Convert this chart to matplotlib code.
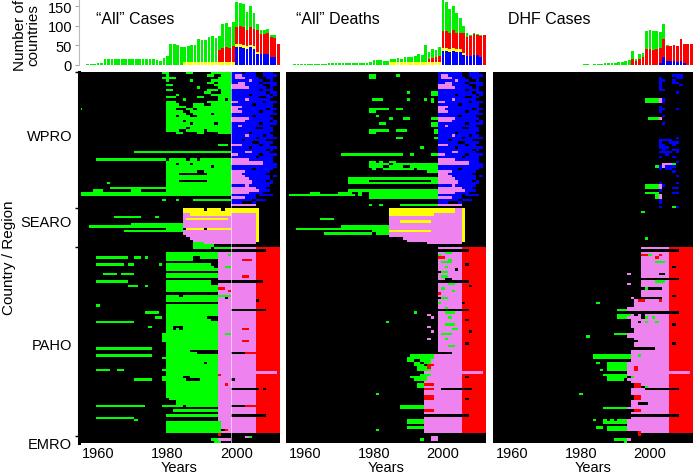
import numpy as np
import matplotlib
matplotlib.use('Agg')
import matplotlib.pyplot as plt
from matplotlib.colors import ListedColormap

plt.rcParams['font.family'] = ['Liberation Sans', 'DejaVu Sans']

years = list(range(1955, 2013))

# ---- bar data (number of countries per year, 1955-2012) ----
cases_green = [0, 0, 1, 2, 2, 3, 3, 13, 14, 14,
               15, 15, 14, 14, 15, 14, 14, 14, 15, 14,
               13, 14, 12, 10, 17, 21, 53, 52, 51, 46,
               38, 41, 44, 43, 59, 56, 55, 63, 66, 61,
               35, 61, 62, 54, 63, 63, 60, 60, 46, 53,
               43, 17, 9, 9, 10, 5, 7, 0]
cases_yellow = [0, 0, 0, 0, 0, 0, 0, 0, 0, 0,
                0, 0, 0, 0, 0, 0, 0, 0, 0, 0,
                0, 0, 0, 0, 0, 0, 0, 0, 0, 0,
                7, 7, 7, 7, 7, 7, 7, 7, 7, 7,
                7, 7, 7, 7, 7, 7, 7, 7, 7, 7,
                7, 5, 0, 0, 0, 0, 0, 0]
cases_red = [0, 0, 0, 0, 0, 0, 0, 0, 0, 0,
             0, 0, 0, 0, 0, 0, 0, 0, 0, 0,
             0, 0, 0, 0, 0, 0, 0, 0, 0, 0,
             0, 0, 0, 0, 0, 0, 0, 0, 0, 0,
             30, 35, 38, 35, 40, 45, 46, 45, 42, 46,
             43, 55, 52, 52, 54, 50, 50, 52]
cases_blue = [0, 0, 0, 0, 0, 0, 0, 0, 0, 0,
              0, 0, 0, 0, 0, 0, 0, 0, 0, 0,
              0, 0, 0, 0, 0, 0, 0, 0, 0, 0,
              0, 0, 0, 0, 0, 0, 0, 0, 0, 0,
              0, 0, 0, 0, 0, 45, 45, 43, 40, 44,
              40, 28, 27, 27, 28, 20, 18, 0]

deaths_green = [0, 0, 1, 1, 1, 1, 1, 2, 2, 2,
                2, 2, 3, 3, 3, 3, 3, 4, 4, 4,
                4, 5, 5, 4, 6, 11, 12, 11, 10, 9,
                9, 8, 10, 9, 12, 14, 12, 16, 20, 19,
                44, 18, 24, 20, 24, 79, 75, 61, 62, 52,
                37, 20, 10, 3, 5, 3, 4, 0]
deaths_yellow = [0, 0, 0, 0, 0, 0, 0, 0, 0, 0,
                 0, 0, 0, 0, 0, 0, 0, 0, 0, 0,
                 0, 0, 0, 0, 0, 0, 0, 0, 0, 0,
                 6, 6, 6, 6, 6, 6, 6, 6, 6, 6,
                 6, 6, 6, 6, 6, 8, 8, 8, 8, 8,
                 8, 5, 0, 0, 0, 0, 0, 0]
deaths_red = [0, 0, 0, 0, 0, 0, 0, 0, 0, 0,
              0, 0, 0, 0, 0, 0, 0, 0, 0, 0,
              0, 0, 0, 0, 0, 0, 0, 0, 0, 0,
              0, 0, 0, 0, 0, 0, 0, 0, 0, 0,
              0, 8, 10, 12, 15, 43, 42, 40, 45, 40,
              40, 50, 48, 50, 52, 50, 52, 75]
deaths_blue = [0, 0, 0, 0, 0, 0, 0, 0, 0, 0,
               0, 0, 0, 0, 0, 0, 0, 0, 0, 0,
               0, 0, 0, 0, 0, 0, 0, 0, 0, 0,
               0, 0, 0, 0, 0, 0, 0, 0, 0, 0,
               0, 0, 0, 0, 0, 35, 35, 33, 35, 33,
               33, 25, 22, 22, 25, 25, 20, 0]

dhf_green = [0, 0, 0, 0, 0, 0, 0, 0, 0, 0,
             0, 0, 0, 0, 0, 0, 0, 0, 0, 0,
             0, 0, 0, 0, 0, 0, 1, 1, 0, 1,
             2, 2, 3, 3, 4, 5, 6, 7, 9, 11,
             20, 5, 11, 11, 46, 48, 47, 46, 41, 39,
             2, 0, 0, 0, 0, 0, 0, 0]
dhf_yellow = [0] * 58
dhf_red = [0, 0, 0, 0, 0, 0, 0, 0, 0, 0,
           0, 0, 0, 0, 0, 0, 0, 0, 0, 0,
           0, 0, 0, 0, 0, 0, 0, 0, 0, 0,
           0, 0, 0, 0, 0, 0, 0, 0, 0, 0,
           14, 10, 15, 18, 40, 40, 38, 40, 38, 45,
           40, 40, 40, 42, 56, 47, 52, 52]
dhf_blue = [0, 0, 0, 0, 0, 0, 0, 0, 0, 0,
            0, 0, 0, 0, 0, 0, 0, 0, 0, 0,
            0, 0, 0, 0, 0, 0, 0, 0, 0, 0,
            0, 0, 0, 0, 0, 0, 0, 0, 0, 0,
            0, 0, 0, 0, 0, 0, 0, 0, 5, 20,
            8, 8, 10, 6, 10, 5, 0, 0]

# ---- heatmap rows: colour runs per country, yy or yy-yy (>=50 -> 19yy) ----
# k none, g green, y yellow, v violet, b blue, r red
regions = ['WPRO', 'SEARO', 'PAHO', 'EMRO']

cases_wpro = [
    "g79-80 g86-87 g93-98 b99-05 k02 b08-10",
    "g80 g92-93 g96-98 b99 v00-01 b02-05 b08-11",
    "g79-82 g95-98 b99 v00-02 b03-06 b09-10",
    "g80 g87 g93-98 b99-03 v04 b05-07 b10",
    "g92-93 g95-98 b99-00 v01-02 b03-06 b08-11",
    "g80-81 g94-98 v99-02 b03-07 b10-11",
    "g89 g95-98 v99-03 b04-08 b10",
    "g80-81 g92-94 g96-98 b99-06 b08-10",
    "g91-92 g96-98 b99-08 b10-11",
    "g83 g93-98 b99-03 b05-09 b11",
    "g80-82 g89-90 g95-98 b99-06 b09-10",
    "g85 g95-96 g98 b99-02 v03 b04-09",
    "g80-82 g92-98 v99-00 b01-07 b09-11",
    "g80-83 g88-90 g93-98 b99-04 b06-10",
    "g80-85 g88-98 v99-01 b02-10",
    "g55 g80-82 g86-87 g89-98 v99-00 b01-08 b10-11",
    "g80-84 g87-98 v99-01 b02-06 b08-10",
    "g80-85 g88-92 g94-98 b99-11",
    "g80-82 g84-86 g89-98 b99-04 b06-09",
    "g80-98 v99-03 b04-10",
    "g80-84 g86-98 v99-02 b03-09 b11",
    "g80-86 g88-93 g95-98 b99-06 b08-11",
    "g80-98 b99-00 v01 b02-09",
    "g80-85 g87-98 b99-05 b08-10",
    "g80-83 g86-90 g92-98 b99-10",
    "g83-84 g89-90 g95-98 b99-03 b05-09",
    "b99-02 v03 b04-07 b09-10",
    "b99-05 b07-11",
    "b99-01 b03-08",
    "b99-04 b07-10",
    "g95-97 v99-01 b02-06 b08-09",
    "b99-03 b05-11",
    "b99-08 b10",
    "g71-98 b99-02 v03-04 b05-09",
    "v99-00 b01-06 b08-11",
    "b99-05 b07-10",
    "g60-79 g81-85 g87-88 g90-98 v99-03 b04-10",
    "g80-98 v99-07 b08-10",
    "g80-82 g84-86 g88-98 v99-07 b08-11",
    "g80-92 g94-98 b99-11",
    "g80-98 b99-04 b06-10",
    "g80-88 g91-98 v99-02 b03-09",
    "g80-83 g92-98 v99-01 b02-08",
    "g80-98 v99-02 b03-09 b11",
    "g80-98 v99-03 b04-09",
    "g80-83 g92-98 v99-04 b05-08 b10",
    "g63 g80-98 v99-04 b05-10",
    "g80-98 b99-02 v03 b04-09",
    "g64-98 v99-05 b06-08",
    "g59-61 g70-72 g80-98 v99-06 b07-09",
    "g55-98 v99-03 b04-07",
    "g55-98 b99-05 b07-10",
    "v99-02 b03-05",
    "g79 g83 g88-98 b99-04 b06-08",
    "b99-01 b05",
    "v99-05",
    "",
]
cases_searo = [
    "y85-90 y92-95 y97-06",
    "y85-06",
    "v85-86 y87-98 v99-05 y06",
    "g65-72 g77 v85-05 y06",
    "v85 y86-97 v98-05 y06",
    "v85-05 y06",
    "g70-84 v85-05 y06",
    "g58-84 v85-05 y06",
    "g80-84 y86-90 y92-98 v99-05 y06",
    "g68-84 v85-05 y06",
    "v85-05 y06",
    "v86-05 y06",
    "v87-05 y06",
    "v88-05 y06",
    "g88-90 v91-05",
    "g88-93",
]
cases_paho = [
    "g88-92 g94-98 v99-05 r06-12",
    "r09-12",
    "g80-94 v95-05 r06-12",
    "g80-94 v95-97 g98 v99-05 r06-12",
    "g60-68 g71-72 g74 g80-87 g90-94 v95-05 r06-12",
    "g80-87 v95-01 r02-04 v05 r06-12",
    "v95-05 r06-12",
    "g60-67 g69-70 g78 g80-92 v95-05 r06-12",
    "g80-93 v95-96 g97-98 v99-05 r06-12",
    "g80-94 v95-05 r06-12",
    "v95-05 r06-12",
    "g62-65 g67-70 g80-94 v95-05 r06-12",
    "g80-94 v95-01 r02-03 v04-05 r06-12",
    "v95-05 r06-12",
    "g60-68 g80-92 r08-12",
    "g80-92 v95-05 r06-12",
    "g69-71 g74 g80-94 v95-05 r06-12",
    "g80-94 r95-96 v97-05 r06-12",
    "g80-94 v95-97 r98 v99-05 r06-12",
    "v95-05 r06-12",
    "g80-83 g85-98 v99-05 r06-12",
    "g80-94 v95-96 v98-05 r06-12",
    "g80-94 v95-05 r07-12",
    "v95-05 r06-12",
    "g60 g80-94 v95-05 r06-12",
    "g80-94 v95-05 r06-12",
    "g80-94 v95-98 r09-12",
    "g74-77 g80-94 v95-05 r06-12",
    "g80-94 v95-05 r06-12",
    "g77-78 g80-91 v95-05 r06-12",
    "g80-92 v95-05 r06-12",
    "g60-70 g80-94 v95-05 r06-12",
    "g80-94 v95-05 r06-12",
    "g75 g80-81 g85-94 v95-05 r06-12",
    "g80-81 g83 g85-94 v95-01 r02-03 v04-05 r06-12",
    "g80-94 v95-05 r06-12",
    "g79-94 v95-96 g97-98 v99-05 r06-12",
    "g79-94 v95-05 r06-12",
    "g79-94 v95-05 r06-12",
    "g79-94 v95-01 r02-03 v04-05 r06-12",
    "g80-94 v95-05 r06-12",
    "g80-94 v95-05 r06-12",
    "g60-75 g80-94 v95-05 r06-12",
    "g80-86 v95-05 r06-12",
    "g80-88 v95-98 r03-12",
    "g60-75 g80-94 v95-05 r06-12",
    "g79-94 v95-05 r06-12",
    "g80-94 v95-05 r06-12",
    "g80-90 g92-94 v95-05 r06-12",
    "g80-94 v95-05 r06-12",
    "g80-94 v95-05 r06-12",
    "g60-63 g66-67 g79-94 v95-05 r06-12",
    "g80-94 v95-11 r12",
    "g80-94 r95 v96-05 r06-12",
    "g79-84 g87-94 v95-05 r06-12",
    "g71-75 g79-85 g90-94 v95-98 v00-05 r06-12",
    "g80-94 v95-05 r06-12",
    "g80-94 v95-96 r97 v98-05 r06-12",
    "g80-94 v95-05 r06-12",
    "g80-94 v95-98 r07 r09-12",
    "g80-94 v95-05 r06-12",
    "g80-94 v95-05 r06-12",
    "g80-94 v95-05 r06-12",
    "g81-94 v95-05 r06-12",
    "g83-94 v95-05 r06-12",
    "g83-94 v95-05 r06-12",
    "g60-73 g79-84 g86-94 v95-98 r03-12",
    "v95-05 r06-12",
    "g82-94 v95-05 r06-12",
    "v95-05 r06-12",
    "g80-94 v95-98 r09-12",
    "g60-70 v95-05 r06-12",
    "g71 v95-05 r06-12",
    "g80-95 v96-05 r06-12",
    "g80-95 v96-05 r06-12",
    "g80-95 v96-05 r06-12",
    "g80-95 r97 v98-05 r06-12",
    "g80-95 v96-05 r06-12",
    "r95",
]
cases_emro = ["v03 g04", "g93-94 v95-98", "g94-95"]

deaths_wpro = [
    "b99-05 b08-10",
    "g79-80 g87 b99 v00-01 b02-05 b08-11",
    "g79-80 b99 v00-02 b03-06 b09-10",
    "b99-03 v04 b05-07 b10",
    "b99-00 v01-02 b03-06 b08-11",
    "v99-02 b03-07 b10-11",
    "v99-03 b04-08 b10",
    "b99-06 b08-10",
    "g90 g97-98 b99-08 b10-11",
    "g97-98 b99-03 b05-09 b11",
    "b99-06 b09-10",
    "g80-82 g90 g95 g97 b99-02 v03 b04-09",
    "g97 v99-00 b01-07 b09-11",
    "b99-04 b06-10",
    "v99-01 b02-10",
    "g79-84 g87-88 v99-00 b01-08 b10-11",
    "g79-80 v99-01 b02-06 b08-10",
    "b99-11",
    "g81 b99-04 b06-09",
    "g85 g89-90 g97-98 v99-03 b04-10",
    "v99-02 b03-09 b11",
    "g82-83 g97-98 b99-06 b08-11",
    "g97-98 b99-00 v01 b02-09",
    "b99-05 b08-10",
    "g79-84 g87-89 g98 b99-10",
    "g79-80 g98 b99-03 b05-09",
    "b99-02 v03 b04-07 b09-10",
    "g87-88 g98 b99-05 b07-11",
    "b99-01 b03-08",
    "b99-04 b07-10",
    "v99-01 b02-06 b08-09",
    "g94 b99-03 b05-11",
    "b99-08 b10",
    "b99-02 v03-04 b05-09",
    "g71-88 g91 g97-98 v99-00 b01-06 b08-11",
    "b99-05 b07-10",
    "v99-03 b04-10",
    "g79-80 g82 g85-86 v99-07 b08-10",
    "g79-84 g86-91 g92-98 v99-07 b08-11",
    "g79-82 g85-88 g91-98 b99-11",
    "g80 g83-91 g93-98 b99-04 b06-10",
    "g96-98 v99-02 b03-09",
    "v99-01 b02-08",
    "v99-02 b03-09 b11",
    "g73-98 v99-03 b04-09",
    "g73-78 g97-98 v99-04 b05-08 b10",
    "g73-98 v99-04 b05-10",
    "b99-02 v03 b04-09",
    "v99-05 b06-08",
    "g73-98 v99-06 b07-09",
    "g62-64 g70-73 g76 g79-98 v99-03 b04-07",
    "g56-74 g76 g79-98 b99-05 b07-10",
    "g79-98 v99-02 b03-05",
    "b99-04 b06-08",
    "b99-01 b05",
    "g79 g82 g88-98 v99-05",
    "",
]
deaths_searo = [
    "y85-03 v04-05 y06",
    "y85-03 v04-05 y06",
    "y85-97 v98-05 y06",
    "v85-05 y06",
    "g65-68 v85-05 y06",
    "v85-87 y88-96 v97-05 y06",
    "v85-05 y06",
    "g71-84 v85-05 y06",
    "g58-84 v85-05 y06",
    "g80-84 y85-96 v97-05 y06",
    "g66-79 g81-84 v85-05 y06",
    "v85-05 y06",
    "v89-05 y06",
    "v90-05 y06",
    "v96-05",
    "",
]
deaths_paho = [
    "v99-05 r06-12",
    "r08-12",
    "v99-00 g01-02 v03-05 r06-12",
    "g99 v00-05 r06-12",
    "r99-00 v01-05 r06-12",
    "v99-01 g02 v03-05 r06-12",
    "v99 g00-02 v03-05 r06-12",
    "v99-05 r06 k07 r08-12",
    "v99-00 g01 v02-05 r06-12",
    "v99-03 v05 r06-12",
    "g00-01 v02-05 r06-12",
    "v99-05 r06-12",
    "v99 g00-01 v02-05 r06-12",
    "v99-00 v03-05 r06-12",
    "r08-12",
    "v99-01 g02-03 v04-05 r06-12",
    "v99-05 r06-12 k08",
    "v99 g00 v01-05 r06-12",
    "v99-02 g03 v04-05 r06-12",
    "r99 v00-05 r06-12",
    "v99-05 r06-12",
    "g00-01 v02-05 r06-12",
    "v99-05 r06-12",
    "g99 v00-05 r07-12",
    "v99-05 r06-12",
    "v99-00 g01 v02-05 r06-12",
    "r08-12",
    "g92 v99-00 g01-03 v04-05 r06-12",
    "v96 v99-05 r06-12",
    "v97 v99-01 g02 v03-05 r06-12",
    "v99-05 r06 k07 r08-12",
    "g84 v99-05 r06-12",
    "v99-00 g01-03 v04-05 r06-12",
    "v96 v99-05 r06-12",
    "v99-02 g03-04 v05 r06-12",
    "v97 v99-05 r06-12 k08",
    "v99 g00-02 v03-05 r06-12",
    "v99-05 r06-12",
    "v96 v99-00 g01 v02-05 r06-12",
    "v99-05 r06-12",
    "v99-05 r06 k07 r08-12",
    "v99-01 g02-03 v04-05 r06-12",
    "v99-05 r06-12",
    "v99-05 r06-12",
    "v03-05 r06-12",
    "g91-97 v98-05 r06-12",
    "g90-97 v98-05 r06-12",
    "g90-91 g94-96 v97-05 r06-12",
    "g92-93 g95-96 v97-05 r06-12",
    "g92-94 r96-97 v98-05 r06-12",
    "g93-95 r96 v97-05 r06-12",
    "g93-96 v97-05 r06-12",
    "v95-11 r12",
    "g94-96 v97-05 r06-12",
    "g91-95 v96-05 r06 k07 r08-12",
    "g92-95 v96-05 r06-12",
    "v95-05 r06-12",
    "g93-94 r95-97 v98-05 r06-12",
    "g93-94 v95-05 r06-12",
    "r95-97 v98-99 r09-12",
    "v95-05 r06-12",
    "g81 v95-05 r06-12",
    "r95-97 v98-05 r06-12",
    "r95-97 v98-05 r06 k07 r08-12",
    "v95-05 r06-12",
    "v95-05 r06-12",
    "g88-94 v95-05 r06-12",
    "g88-94 v95-05 r06-12",
    "r95-97 v98-05 r06-12",
    "v95-05 r06-12",
    "r08-12",
    "v95-05 r06-12",
    "g90-94 v95-05 r06-12",
    "g90-94 v95-05 r06-12",
    "v95-05 r06-12",
    "g90-94 v95-05 r06-12",
    "g81 v95-05 r06-12",
    "v95-05 r06-12",
    "",
]
deaths_emro = ["v97-98", "g94 v97-98", ""]

dhf_wpro = [
    "", "b07-09", "b03 b08-09", "b03-04 b07", "b03 b07-08", "b03 b09", "b03",
    "b03-04", "b08", "", "", "g99-02 v03 b04", "g99-02 v03 b04", "", "b03",
    "b03-04 b08", "b03", "", "b04", "g00-02 v03", "", "b04", "", "", "", "",
    "", "b08", "b03-06", "b03 b06-08", "b03-04 b07", "b03-05", "b04 b07-08",
    "b03-06 b08", "b05", "b03 b07", "", "b08", "v04-06 g07",
    "g02 b03 v04 b05-07", "b03 b05-06", "b07", "", "b08", "", "", "b03 b08",
    "g99-02 v03 b04", "g99-02 v03 b07-08", "b03", "g99-02 b07-08", "g02 v03",
    "g02 v03", "b03", "b03", "", "b03 g07 b08",
]
dhf_searo = ["", "g98", "", "", "", "", "", "", "", "", "", "", "g99", "", "", ""]
dhf_paho = [
    "v98-05 r06-12",
    "r09-12",
    "v98-05 r06-12",
    "r98-99 g00 v01-02 r03 v04-05 r06-12",
    "v98-01 r02 v03-05 r06-12",
    "v98-05 r06-12",
    "v98-01 g02-04 v05 r06-12",
    "v98-05 r06-12",
    "v98-05 r06 r08-12",
    "v98-05 r06-12",
    "v98-05 r06-12",
    "v94 v98-02 v05 r06-12",
    "v98-05 r06-12",
    "r09-12",
    "v98-01 g02-04 v05 r06-12",
    "v94 v98-05 r06-12",
    "v98-05 r06-12",
    "g99 v04-05 r06-12",
    "v98-05 r06-12",
    "v98-05 r06-12",
    "v98-05 r06 r08-12",
    "v95 v04-05 r06-12",
    "v96 r97-98 v99-02 r03 v04-05 r06-12",
    "g85 v96-05 r06-12",
    "v96-05 r06-12",
    "v94-05 r06-12",
    "g91-93 v94-05 r06-12",
    "r09-12",
    "g91-94 v95 v97 v99-05 r06-12",
    "g91-93 v94-97 g99 v00 g01 v02-05 r06-12",
    "v95-05 r06-12",
    "v95-96 v98 g99 v00-01 g02 v03-05 r06-12",
    "v95-05 r06 r08-12",
    "v95-05 r06-12",
    "v96-05 r06-12",
    "v96-05 r06-12",
    "g90-93 v94-05 r06-12",
    "g82 v94-05 r06-12",
    "v96-05 r06-12",
    "v97-05 r06-12",
    "v96-05 r06 r08-12",
    "v96-05 r06-12",
    "v02-05 r06-12",
    "v95-05 r06-12",
    "v95-05 r06-12",
    "g84-94 v95-96 g97 v98-05 r06-12",
    "g84-94 v95-05 r06-12",
    "v95-05 r06-12",
    "g85 g88-93 v94-05 r06-12",
    "g88-93 v94-05 r06-12",
    "g88-93 v94-95 r96 v97-05 r06-12",
    "g86 g88-93 v94-95 r96 v97-05 r06-12",
    "v94-11 r12",
    "g87-93 v94-05 r06-12",
    "g88-93 g95 v96-05 r06-12",
    "g88-92 v94-05 r06-12",
    "v95-05 r06-12",
    "r96-97 v98-05 r06-12",
    "r96-97 g99 v00-05 r06-12",
    "v95-98 r09-12",
    "v95-05 r06-12",
    "g80 v95-05 r06-12",
    "r96-97 v98-05 r06-12",
    "r96-97 v98-05 r06-12",
    "v95-05 r06-12",
    "v95-96 v00-05 r06-12",
    "v95-05 r06-12",
    "g87-93 v94-05 r06-12",
    "r96-97 v98-05 r06-12",
    "v95-05 r06-12",
    "r09-12",
    "v95-05 r06-12",
    "g84 g87 g89 g91-93 v94-05 r06-12",
    "g87-93 v94-05 r06-12",
    "v94-05 r06-12",
    "g85-86 g88-93 v94-05 r06-12",
    "g88-93 v94-05 r06-12",
    "r97 v98-05 r06-12",
    "r97",
]
dhf_emro = ["", "g90-93 v94", "g93"]

colors = ['#000000', '#00ff00', '#ffff00', '#ee82ee', '#0000ff', '#ff0000']
codes = {'k': 0, 'g': 1, 'y': 2, 'v': 3, 'b': 4, 'r': 5}


def to_year(s):
    v = int(s)
    return 1900 + v if v >= 50 else 2000 + v


def build_grid(rows):
    grid = np.zeros((len(rows), len(years)), dtype=int)
    for i, spec in enumerate(rows):
        for tok in spec.split():
            a, _, b = tok[1:].partition('-')
            y0 = to_year(a)
            y1 = to_year(b) if b else y0
            grid[i, y0 - years[0]:y1 - years[0] + 1] = codes[tok[0]]
    return grid


panels = [
    ('\u201cAll\u201d Cases', [cases_wpro, cases_searo, cases_paho, cases_emro],
     [cases_blue, cases_yellow, cases_red, cases_green], (79, 280), 96),
    ('\u201cAll\u201d Deaths', [deaths_wpro, deaths_searo, deaths_paho, deaths_emro],
     [deaths_blue, deaths_yellow, deaths_red, deaths_green], (286, 486), 296),
    ('DHF Cases', [dhf_wpro, dhf_searo, dhf_paho, dhf_emro],
     [dhf_blue, dhf_yellow, dhf_red, dhf_green], (493, 693), 508),
]
bar_colors = ['#0000ff', '#ffff00', '#ff0000', '#00ee00']

W, H = 693, 477
heat_top, heat_bot = 73, 444
bar_top, bar_bot = 0, 65.5

fig = plt.figure(figsize=(W / 100, H / 100), dpi=100)
cmap = ListedColormap(colors)

for idx, (title, region_rows, stacks, (x0, x1), tx) in enumerate(panels):
    rows = sum(region_rows, [])
    grid = build_grid(rows)
    n = len(rows)

    ax = fig.add_axes([x0 / W, 1 - heat_bot / H, (x1 - x0) / W, (heat_bot - heat_top) / H])
    ax.imshow(grid, cmap=cmap, vmin=0, vmax=5, aspect='auto', interpolation='nearest',
              extent=(years[0] - 0.5, years[-1] + 0.5, n, 0))
    ax.set_xlim(years[0] - 0.5, years[-1] + 0.5)
    ax.set_ylim(n, 0)
    ax.set_xticks([1960, 1980, 2000])
    ax.tick_params(axis='x', length=0, labelsize=10.5, pad=2)
    ax.set_xlabel('Years', fontsize=10.5, labelpad=0)
    for s in ['top', 'right', 'bottom']:
        ax.spines[s].set_visible(False)
    if idx == 0:
        ax.axvline(1998.5, color='white', lw=0.6, alpha=0.7)
        bounds = np.cumsum([0] + [len(r) for r in region_rows])
        ax.spines['left'].set_linewidth(2.2)
        ax.set_yticks(bounds[:-1])
        ax.set_yticklabels([])
        ax.tick_params(axis='y', length=3, width=1)
        label_rows = [26.7, 62.7, 114.1, 155.4]
        for name, yr_ in zip(regions, label_rows):
            ax.text(-0.035, yr_, name, transform=ax.get_yaxis_transform(),
                    ha='right', va='center', fontsize=10.5, clip_on=False)
    else:
        ax.spines['left'].set_visible(False)
        ax.set_yticks([])

    bx = fig.add_axes([x0 / W, 1 - bar_bot / H, (x1 - x0) / W, (bar_bot - bar_top) / H])
    bottom = np.zeros(len(years))
    for vals, c in zip(stacks, bar_colors):
        bx.bar(years, vals, width=0.8, bottom=bottom, color=c, linewidth=0)
        bottom += np.array(vals)
    bx.set_xlim(years[0] - 0.5, years[-1] + 0.5)
    bx.set_ylim(0, 168)
    bx.set_xticks([])
    for s in ['top', 'right', 'bottom']:
        bx.spines[s].set_visible(False)
    if idx == 0:
        bx.set_yticks([0, 50, 100, 150])
        bx.tick_params(axis='y', length=3, color='#aaaaaa', labelsize=10.5, pad=2)
        bx.spines['left'].set_color('#bbbbbb')
        bx.spines['left'].set_linewidth(0.8)
    else:
        bx.spines['left'].set_visible(False)
        bx.set_yticks([])
    bx.patch.set_alpha(0)
    fig.text(tx / W, 1 - 20 / H, title, fontsize=11.5, ha='left', va='center')

fig.text(27 / W, 1 - 35 / H, 'Number of\ncountries', rotation=90, ha='center',
         va='center', fontsize=11, linespacing=0.95)
fig.text(9 / W, 1 - 258 / H, 'Country / Region', rotation=90, ha='center',
         va='center', fontsize=11)

fig.savefig('out.png', dpi=100)
